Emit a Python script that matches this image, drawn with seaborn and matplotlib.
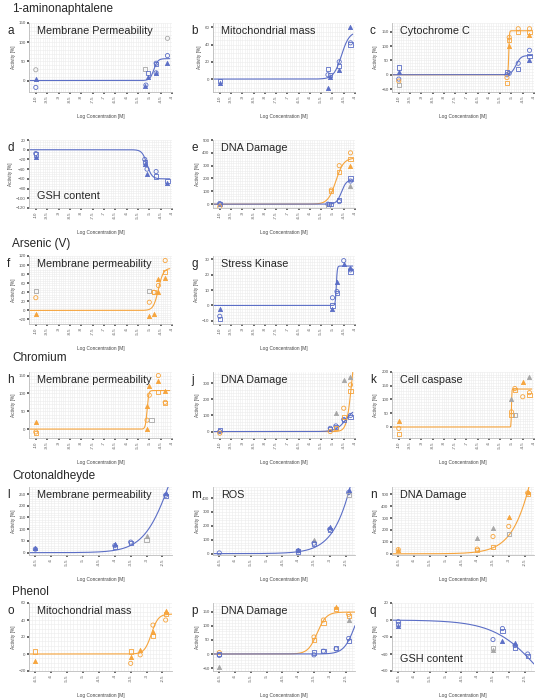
import numpy as np
import matplotlib
matplotlib.use('Agg')
import matplotlib.pyplot as plt
import seaborn as sb

BLUE = '#5b6ec6'
ORANGE = '#f6a43c'
GRAY = '#a6a6a6'

# section headers: (text, y pixel)
sections = [('1-aminonaphtalene', 9), ('Arsenic (V)', 244), ('Chromium', 358),
            ('Crotonaldheyde', 476), ('Phenol', 592)]

# rows: (top, bottom) pixels of plot area
rows = [(23, 92), (140, 208), (256, 324), (372, 438), (487, 555), (603, 671)]
cols = [(29, 172), (213, 355), (392, 534)]

# panel data: points are (x, y, colour, marker)
a_pts = [(-10, 28, 'g', 'o'), (-10, 5, 'b', '^'), (-10, -18, 'b', 'o'),
         (-5.2, 30, 'g', 's'), (-5.2, -15, 'b', '^'), (-5.15, -12, 'b', 'o'),
         (-5.05, 20, 'b', 's'), (-5.05, 10, 'b', '^'),
         (-4.7, 45, 'b', 'o'), (-4.7, 43, 'b', 's'), (-4.7, 20, 'b', '^'), (-4.7, 20, 'b', 'o'),
         (-4.2, 110, 'g', 'o'), (-4.2, 65, 'b', 'o'), (-4.2, 45, 'b', '^')]
b_pts = [(-10, -2, 'b', 's'), (-10, -5, 'b', '^'),
         (-5.2, 12, 'b', 's'), (-5.2, 5, 'b', 'o'), (-5.2, -10, 'b', '^'),
         (-5.1, 5, 'b', 's'), (-5.1, 2, 'b', '^'),
         (-4.7, 20, 'b', 'o'), (-4.7, 15, 'b', 's'), (-4.7, 10, 'b', '^'),
         (-4.2, 60, 'b', '^'), (-4.2, 42, 'b', 'o'), (-4.2, 40, 'b', 's')]
c_pts = [(-10, 25, 'b', 's'), (-10, 10, 'b', '^'), (-10, -15, 'b', 'o'),
         (-10, -22, 'o', 'o'), (-10, -35, 'g', 's'),
         (-5.2, 10, 'b', 's'), (-5.2, 0, 'b', 'o'), (-5.2, -10, 'o', 'o'), (-5.2, -30, 'o', 's'),
         (-5.1, 130, 'o', 'o'), (-5.1, 120, 'o', 's'), (-5.1, 100, 'o', '^'), (-5.1, 5, 'b', 'o'),
         (-4.7, 160, 'o', 'o'), (-4.7, 150, 'o', 's'), (-4.7, 40, 'b', 'o'), (-4.7, 20, 'b', 's'),
         (-4.2, 160, 'o', 'o'), (-4.2, 150, 'o', 's'), (-4.2, 140, 'o', '^'),
         (-4.2, 85, 'b', 'o'), (-4.2, 65, 'b', 's'), (-4.2, 50, 'b', '^')]
d_pts = [(-10, -8, 'b', 'o'), (-10, -10, 'b', 's'), (-10, -15, 'b', '^'),
         (-5.2, -20, 'b', 'o'), (-5.2, -25, 'b', 's'), (-5.2, -30, 'b', '^'),
         (-5.1, -40, 'b', 'o'), (-5.1, -50, 'b', '^'),
         (-4.7, -45, 'b', 'o'), (-4.7, -55, 'b', 's'),
         (-4.2, -65, 'b', 's'), (-4.2, -68, 'b', '^')]
e_pts = [(-10, 5, 'b', 'o'), (-10, 0, 'b', 's'), (-10, -20, 'o', 'o'),
         (-5.2, 0, 'b', 'o'), (-5.2, -20, 'g', 's'), (-5.15, 0, 'b', 's'),
         (-5.05, 110, 'o', 'o'), (-5.05, 100, 'o', 's'), (-5.05, 0, 'b', 's'),
         (-4.7, 300, 'o', 'o'), (-4.7, 250, 'o', 's'), (-4.7, 30, 'b', 's'), (-4.7, 20, 'b', 'o'),
         (-4.2, 400, 'o', 'o'), (-4.2, 350, 'o', 's'), (-4.2, 300, 'o', '^'),
         (-4.2, 200, 'b', 's'), (-4.2, 180, 'b', 'o'), (-4.2, 140, 'g', '^')]
f_pts = [(-10, 42, 'g', 's'), (-10, 28, 'o', 'o'), (-10, -8, 'o', '^'),
         (-5.0, 42, 'g', 's'), (-5.0, 18, 'o', 'o'), (-5.0, -13, 'o', '^'),
         (-4.8, 40, 'o', 'o'), (-4.8, 40, 'o', 's'), (-4.8, -8, 'o', '^'),
         (-4.6, 70, 'o', '^'), (-4.6, 55, 'o', 'o'), (-4.6, 40, 'o', '^'),
         (-4.3, 110, 'o', 'o'), (-4.3, 85, 'o', 's'), (-4.3, 72, 'o', '^')]
g_pts = [(-10, -2, 'b', '^'), (-10, -7, 'b', 'o'), (-10, -9, 'b', 's'),
         (-5.0, 5, 'b', 'o'), (-5.0, 0, 'b', 's'), (-5.0, -2, 'b', '^'),
         (-4.8, 15, 'b', '^'), (-4.8, 9, 'b', 'o'), (-4.8, 8, 'b', 's'),
         (-4.5, 29, 'b', 'o'), (-4.5, 27, 'b', '^'),
         (-4.2, 24, 'b', '^'), (-4.2, 23, 'b', 'o'), (-4.2, 22, 'b', 's')]
h_pts = [(-10, 20, 'o', '^'), (-10, -8, 'o', 'o'), (-10, -12, 'o', 's'),
         (-5.1, 65, 'o', '^'), (-5.1, 25, 'o', 'o'), (-5.1, 0, 'o', '^'),
         (-5.0, 120, 'o', '^'), (-5.0, 95, 'o', 'o'), (-4.9, 25, 'g', 's'),
         (-4.6, 150, 'o', 'o'), (-4.6, 135, 'o', '^'), (-4.6, 105, 'o', 's'),
         (-4.3, 108, 'o', '^'), (-4.3, 75, 'o', 'o'), (-4.3, 72, 'o', 's')]
j_pts = [(-10, 10, 'b', 's'), (-10, 0, 'b', 'o'), (-10, -10, 'o', 'o'),
         (-5.1, 20, 'b', 'o'), (-5.1, 15, 'b', 's'), (-5.1, 0, 'o', 'o'),
         (-4.85, 35, 'b', 'o'), (-4.85, 30, 'b', 's'), (-4.85, 115, 'g', '^'), (-4.85, 20, 'o', 's'),
         (-4.5, 75, 'b', 'o'), (-4.5, 70, 'b', 's'), (-4.5, 145, 'o', 'o'),
         (-4.5, 90, 'o', 's'), (-4.5, 320, 'g', '^'),
         (-4.2, 100, 'b', 'o'), (-4.2, 90, 'b', 's'), (-4.2, 340, 'g', '^'),
         (-4.2, 290, 'o', 'o'), (-4.2, 250, 'o', 's')]
k_pts = [(-10, 20, 'o', '^'), (-10, -5, 'o', 'o'), (-10, -25, 'o', 's'),
         (-5.0, 55, 'o', 'o'), (-5.0, 45, 'o', 's'), (-5.0, 100, 'g', '^'),
         (-4.85, 140, 'o', 'o'), (-4.85, 135, 'o', 's'), (-4.85, 45, 'g', 's'),
         (-4.5, 165, 'o', '^'), (-4.5, 110, 'o', 'o'),
         (-4.2, 180, 'g', '^'), (-4.2, 125, 'o', 'o'), (-4.2, 115, 'o', 's')]
l_pts = [(-6.5, 20, 'b', '^'), (-6.5, 15, 'b', 'o'),
         (-4.0, 35, 'b', '^'), (-4.0, 30, 'b', 'o'), (-4.0, 25, 'b', 's'),
         (-3.5, 45, 'b', 'o'), (-3.5, 40, 'b', 's'),
         (-3.0, 70, 'g', '^'), (-3.0, 55, 'g', 's'),
         (-2.4, 255, 'b', '^'), (-2.4, 245, 'b', 'o'), (-2.4, 240, 'b', 's')]
m_pts = [(-6.5, 5, 'b', 'o'),
         (-4.0, 25, 'b', '^'), (-4.0, 20, 'b', 'o'), (-4.0, 15, 'b', 's'),
         (-3.5, 95, 'g', '^'), (-3.5, 75, 'b', 'o'), (-3.5, 70, 'b', 's'),
         (-3.0, 190, 'b', '^'), (-3.0, 175, 'b', 'o'), (-3.0, 170, 'b', 's'),
         (-2.4, 460, 'b', '^'), (-2.4, 440, 'b', 'o'), (-2.4, 420, 'g', 's')]
n_pts = [(-6.5, 35, 'o', 'o'), (-6.5, 30, 'o', '^'),
         (-4.0, 135, 'g', '^'), (-4.0, 40, 'o', 'o'), (-4.0, 35, 'o', 's'),
         (-3.5, 215, 'g', '^'), (-3.5, 145, 'o', 'o'), (-3.5, 55, 'o', 's'),
         (-3.0, 310, 'o', '^'), (-3.0, 230, 'o', 'o'), (-3.0, 165, 'g', 's'),
         (-2.4, 520, 'o', '^'), (-2.4, 510, 'o', 'o'), (-2.4, 500, 'o', 's')]
o_pts = [(-6.5, 3, 'o', 's'), (-6.5, -8, 'o', '^'),
         (-3.5, 3, 'o', 's'), (-3.5, -4, 'o', '^'), (-3.5, -11, 'o', 'o'),
         (-3.2, 5, 'o', '^'), (-3.2, -1, 'o', 'o'),
         (-2.8, 34, 'o', 'o'), (-2.8, 26, 'o', '^'), (-2.8, 21, 'o', 's'),
         (-2.4, 51, 'o', '^'), (-2.4, 47, 'o', 's'), (-2.4, 40, 'o', 'o')]
p_pts = [(-6.5, 5, 'o', 'o'), (-6.5, 0, 'b', 's'), (-6.5, -5, 'b', 'o'), (-6.5, -45, 'g', '^'),
         (-3.5, 60, 'o', 'o'), (-3.5, 50, 'o', 's'), (-3.5, 5, 'b', 's'), (-3.5, -3, 'b', 'o'),
         (-3.2, 120, 'o', 'o'), (-3.2, 110, 'o', 's'), (-3.2, 10, 'b', 's'), (-3.2, 10, 'b', 'o'),
         (-2.8, 165, 'o', '^'), (-2.8, 160, 'o', 's'), (-2.8, 20, 'b', 's'), (-2.8, 18, 'b', 'o'),
         (-2.4, 140, 'o', 'o'), (-2.4, 135, 'o', 's'), (-2.4, 120, 'g', '^'),
         (-2.4, 55, 'b', 'o'), (-2.4, 45, 'b', 's')]
q_pts = [(-6.5, -2, 'b', 'o'), (-6.5, -5, 'b', 's'), (-6.5, -7, 'b', '^'),
         (-3.5, -23, 'b', 'o'), (-3.5, -33, 'g', 's'), (-3.5, -35, 'g', '^'),
         (-3.2, -10, 'b', 'o'), (-3.2, -13, 'b', 's'), (-3.2, -25, 'b', '^'),
         (-2.8, -27, 'b', '^'), (-2.8, -30, 'b', 'o'), (-2.8, -33, 'b', 's'),
         (-2.4, -40, 'b', 'o'), (-2.4, -42, 'b', 's')]

# fitted curves: (colour, bottom, top, logEC50, hill)
a_fit = [('b', 0, 57, -4.8, 5)]
b_fit = [('b', 0, 55, -4.6, 2.5)]
c_fit = [('o', 0, 153, -5.12, 30), ('b', 0, 67, -4.8, 4)]
d_fit = [('b', 0, -60, -5.1, 4)]
e_fit = [('o', 0, 360, -4.85, 2.5), ('b', 0, 190, -4.6, 4)]
f_fit = [('o', 0, 93, -4.6, 4)]
g_fit = [('b', 0, 25.5, -4.83, 20)]
h_fit = [('o', 0, 108, -5.1, 12)]
j_fit = [('o', 0, 600, -4.15, 4), ('b', 0, 150, -4.4, 2)]
k_fit = [('o', 0, 138, -5.0, 50)]
l_fit = [('b', 0, 650, -2.2, 1)]
m_fit = [('b', 0, 2200, -1.8, 1)]
n_fit = [('o', 0, 2600, -1.8, 1)]
o_fit = [('o', 0, 47, -2.85, 4)]
p_fit = [('o', 0, 148, -3.4, 3), ('b', 0, 200, -2.2, 2.5)]
q_fit = [('b', 0, -120, -2.0, 0.6)]

x_arsenic = (-10.3, -4.1)
x_phenol = (-6.7, -2.2)

panels = [
    # letter, title, row, col, pts, fit, xlim, ylim, yticks, title_bottom
    ('a', 'Membrane Permeability', 0, 0, a_pts, a_fit, x_arsenic, (-30, 150), [0, 50, 100, 150], False),
    ('b', 'Mitochondrial mass', 0, 1, b_pts, b_fit, x_arsenic, (-15, 65), [0, 20, 40, 60], False),
    ('c', 'Cytochrome C', 0, 2, c_pts, c_fit, x_arsenic, (-60, 180), [-50, 0, 50, 100, 150], False),
    ('d', 'GSH content', 1, 0, d_pts, d_fit, x_arsenic, (-120, 20), list(range(-120, 21, 20)), True),
    ('e', 'DNA Damage', 1, 1, e_pts, e_fit, x_arsenic, (-30, 500), [0, 100, 200, 300, 400, 500], False),
    ('f', 'Membrane permeability', 2, 0, f_pts, f_fit, x_arsenic, (-30, 120), list(range(-20, 121, 20)), False),
    ('g', 'Stress Kinase', 2, 1, g_pts, g_fit, x_arsenic, (-12, 32), [-10, 0, 10, 20, 30], False),
    ('h', 'Membrane permeability', 3, 0, h_pts, h_fit, x_arsenic, (-25, 160), [0, 50, 100, 150], False),
    ('j', 'DNA Damage', 3, 1, j_pts, j_fit, x_arsenic, (-40, 370), [0, 100, 200, 300], False),
    ('k', 'Cell caspase', 3, 2, k_pts, k_fit, x_arsenic, (-40, 200), [0, 50, 100, 150, 200], False),
    ('l', 'Membrane permeability', 4, 0, l_pts, l_fit, x_phenol, (-10, 280), [0, 50, 100, 150, 200, 250], False),
    ('m', 'ROS', 4, 1, m_pts, m_fit, x_phenol, (-10, 480), [0, 100, 200, 300, 400], False),
    ('n', 'DNA Damage', 4, 2, n_pts, n_fit, x_phenol, (-10, 560), [0, 100, 200, 300, 400, 500], False),
    ('o', 'Mitochondrial mass', 5, 0, o_pts, o_fit, x_phenol, (-20, 60), [-20, 0, 20, 40, 60], False),
    ('p', 'DNA Damage', 5, 1, p_pts, p_fit, x_phenol, (-60, 180), [-50, 0, 50, 100, 150], False),
    ('q', 'GSH content', 5, 2, q_pts, q_fit, x_phenol, (-60, 20), [-60, -40, -20, 0, 20], True),
]

colour_of = {'b': BLUE, 'o': ORANGE, 'g': GRAY}

sb.set_theme(style='whitegrid')
plt.rcParams['font.family'] = ['Liberation Sans', 'DejaVu Sans']

W, H = 546, 700
fig = plt.figure(figsize=(W / 100, H / 100), dpi=100)

for text, y in sections:
    fig.text(12 / W, 1 - y / H, text, fontsize=8.5, va='center', ha='left')

for letter, title, r, c, pts, fit, xlim, ylim, yticks, tbottom in panels:
    top, bottom = rows[r]
    left, right = cols[c]
    ax = fig.add_axes([left / W, 1 - bottom / H, (right - left) / W, (bottom - top) / H])
    ax.set_facecolor('white')
    ax.grid(True, which='both', color='#ececec', linewidth=0.4)
    ax.minorticks_on()
    for s in ['top', 'right']:
        ax.spines[s].set_visible(False)
    for s in ['left', 'bottom']:
        ax.spines[s].set_color('#bbbbbb')
        ax.spines[s].set_linewidth(0.6)

    xs = np.linspace(xlim[0], xlim[1], 300)
    for col, bot, tp, ec50, hill in fit:
        ys = bot + (tp - bot) / (1 + 10 ** (hill * (ec50 - xs)))
        sb.lineplot(x=xs, y=ys, color=colour_of[col], linewidth=0.8, ax=ax)

    for x, y, col, mk in pts:
        filled = mk == '^'
        ax.scatter([x], [y], marker=mk, s=9,
                   facecolors=colour_of[col] if filled else 'none',
                   edgecolors=colour_of[col], linewidths=0.6, zorder=3)

    ax.set_xlim(*xlim)
    ax.set_ylim(*ylim)
    ax.set_yticks(yticks)
    if xlim == x_arsenic:
        xt = np.arange(-10, -4 + 0.01, 0.5)
    else:
        xt = np.arange(-6.5, -2.5 + 0.01, 0.5)
    ax.set_xticks(xt)
    ax.set_xticklabels([f'{v:g}' for v in xt], rotation=90)
    ax.tick_params(axis='both', labelsize=3.2, length=1.5, pad=1, colors='#555555',
                   which='major', left=True, bottom=True)
    ax.tick_params(which='minor', length=0)
    ax.set_ylabel('Activity [%]', fontsize=3.4, color='#444444', labelpad=2)
    ax.set_xlabel('Log Concentration [M]', fontsize=3.4, color='#444444', labelpad=8)

    fig.text((left - 22) / W, 1 - (top + 8) / H, letter, fontsize=8.5, va='center', ha='left')
    ty = (bottom - 12) if tbottom else (top + 8)
    fig.text((left + 8) / W, 1 - ty / H, title, fontsize=7.8, va='center', ha='left')

fig.savefig('out.png', dpi=100)
